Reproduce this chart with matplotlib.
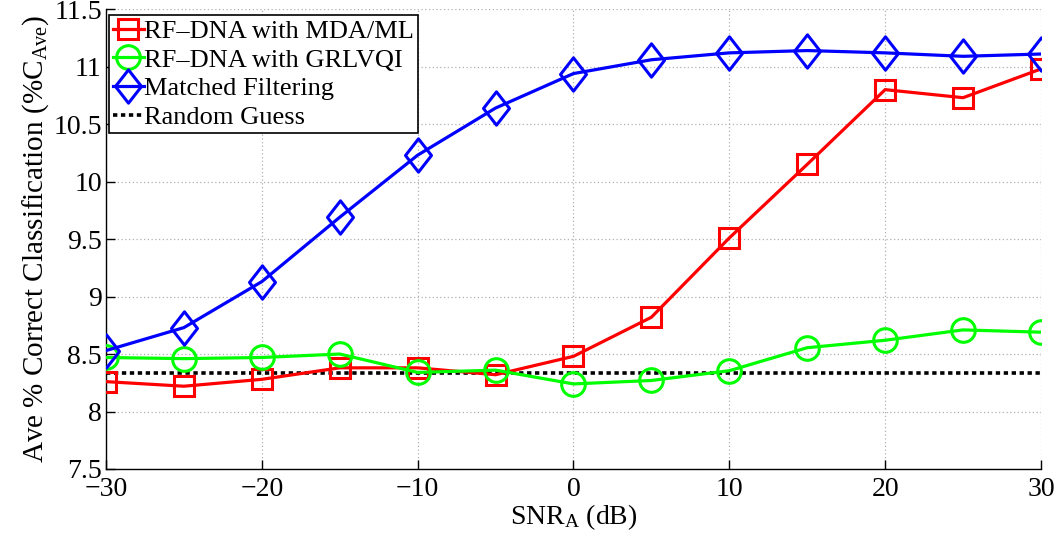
import matplotlib
matplotlib.use("Agg")
import matplotlib.pyplot as plt
from matplotlib.path import Path

# SNR sweep (dB)
snr_db = [-30, -25, -20, -15, -10, -5, 0, 5, 10, 15, 20, 25, 30]

# Average % correct classification per method
mda_ml = [8.26, 8.22, 8.28, 8.38, 8.38, 8.32, 8.48, 8.82, 9.51, 10.15, 10.80, 10.73, 10.98]
grlvqi = [8.47, 8.46, 8.47, 8.50, 8.34, 8.36, 8.24, 8.27, 8.355, 8.555, 8.62, 8.71, 8.69]
matched = [8.53, 8.73, 9.13, 9.69, 10.23, 10.64, 10.94, 11.06, 11.12, 11.14, 11.12, 11.09, 11.11]
random_guess = 100.0 / 12

labels = ["RF\u2013DNA with MDA/ML", "RF\u2013DNA with GRLVQI",
          "Matched Filtering", "Random Guess"]

plt.rcParams["font.family"] = ["Liberation Serif", "DejaVu Serif"]
plt.rcParams["mathtext.fontset"] = "custom"
plt.rcParams["mathtext.rm"] = "Liberation Serif"
plt.rcParams["mathtext.it"] = "Liberation Serif:italic"

fig = plt.figure(figsize=(10.62, 5.40), dpi=100)
ax = fig.add_axes([0.0998, 0.1315, 0.8804, 0.8515])

# MATLAB-style diamond (narrower than tall)
diamond = Path([(0, 1), (0.78, 0), (0, -1), (-0.78, 0), (0, 1)],
               [Path.MOVETO, Path.LINETO, Path.LINETO, Path.LINETO, Path.CLOSEPOLY])

lw = 2.3
mew = 2.2
ax.plot(snr_db, mda_ml, color="#ff0000", lw=lw, marker="s", ms=14,
        mfc="none", mec="#ff0000", mew=mew, label=labels[0], zorder=3)
ax.plot(snr_db, grlvqi, color="#00ff00", lw=lw, marker="o", ms=17,
        mfc="none", mec="#00ff00", mew=mew, label=labels[1], zorder=3)
ax.plot(snr_db, matched, color="#0000ff", lw=lw, marker=diamond, ms=24,
        mfc="none", mec="#0000ff", mew=mew, label=labels[2], zorder=3)
ax.plot([snr_db[0], snr_db[-1]], [random_guess, random_guess], color="black",
        lw=2.6, linestyle=(0, (1.2, 1.0)), label=labels[3], zorder=2)

ax.set_xlim(-30, 30)
ax.set_ylim(7.5, 11.5)
ax.set_xticks([-30, -20, -10, 0, 10, 20, 30])
ax.set_yticks([7.5, 8, 8.5, 9, 9.5, 10, 10.5, 11, 11.5])
ax.set_yticklabels(["7.5", "8", "8.5", "9", "9.5", "10", "10.5", "11", "11.5"])

ax.grid(True, color="#b0b0b0", linestyle=(0, (1, 2)), linewidth=0.9)
ax.set_axisbelow(True)
for side in ["top", "right"]:
    ax.spines[side].set_visible(False)
for side in ["left", "bottom"]:
    ax.spines[side].set_linewidth(1.0)
    ax.spines[side].set_color("black")
ax.tick_params(direction="in", length=6.5, width=1, labelsize=20)
ax.tick_params(axis="x", pad=6)
ax.tick_params(axis="y", pad=3)

ax.set_xlabel(r"SNR$_{\mathrm{A}}$ (dB)", fontsize=20, labelpad=0)
ax.set_ylabel(r"Ave % Correct Classification (%C$_{\mathrm{Ave}}$)", fontsize=21, labelpad=2)

leg = ax.legend(loc="upper left", bbox_to_anchor=(0.0, 0.992), fontsize=19,
                frameon=True, fancybox=False, edgecolor="black", framealpha=1,
                handlelength=1.2, handletextpad=0.0, borderpad=0.15,
                labelspacing=0.2, borderaxespad=0.1)
leg.get_frame().set_linewidth(1.2)

fig.savefig("out.png", dpi=100)
